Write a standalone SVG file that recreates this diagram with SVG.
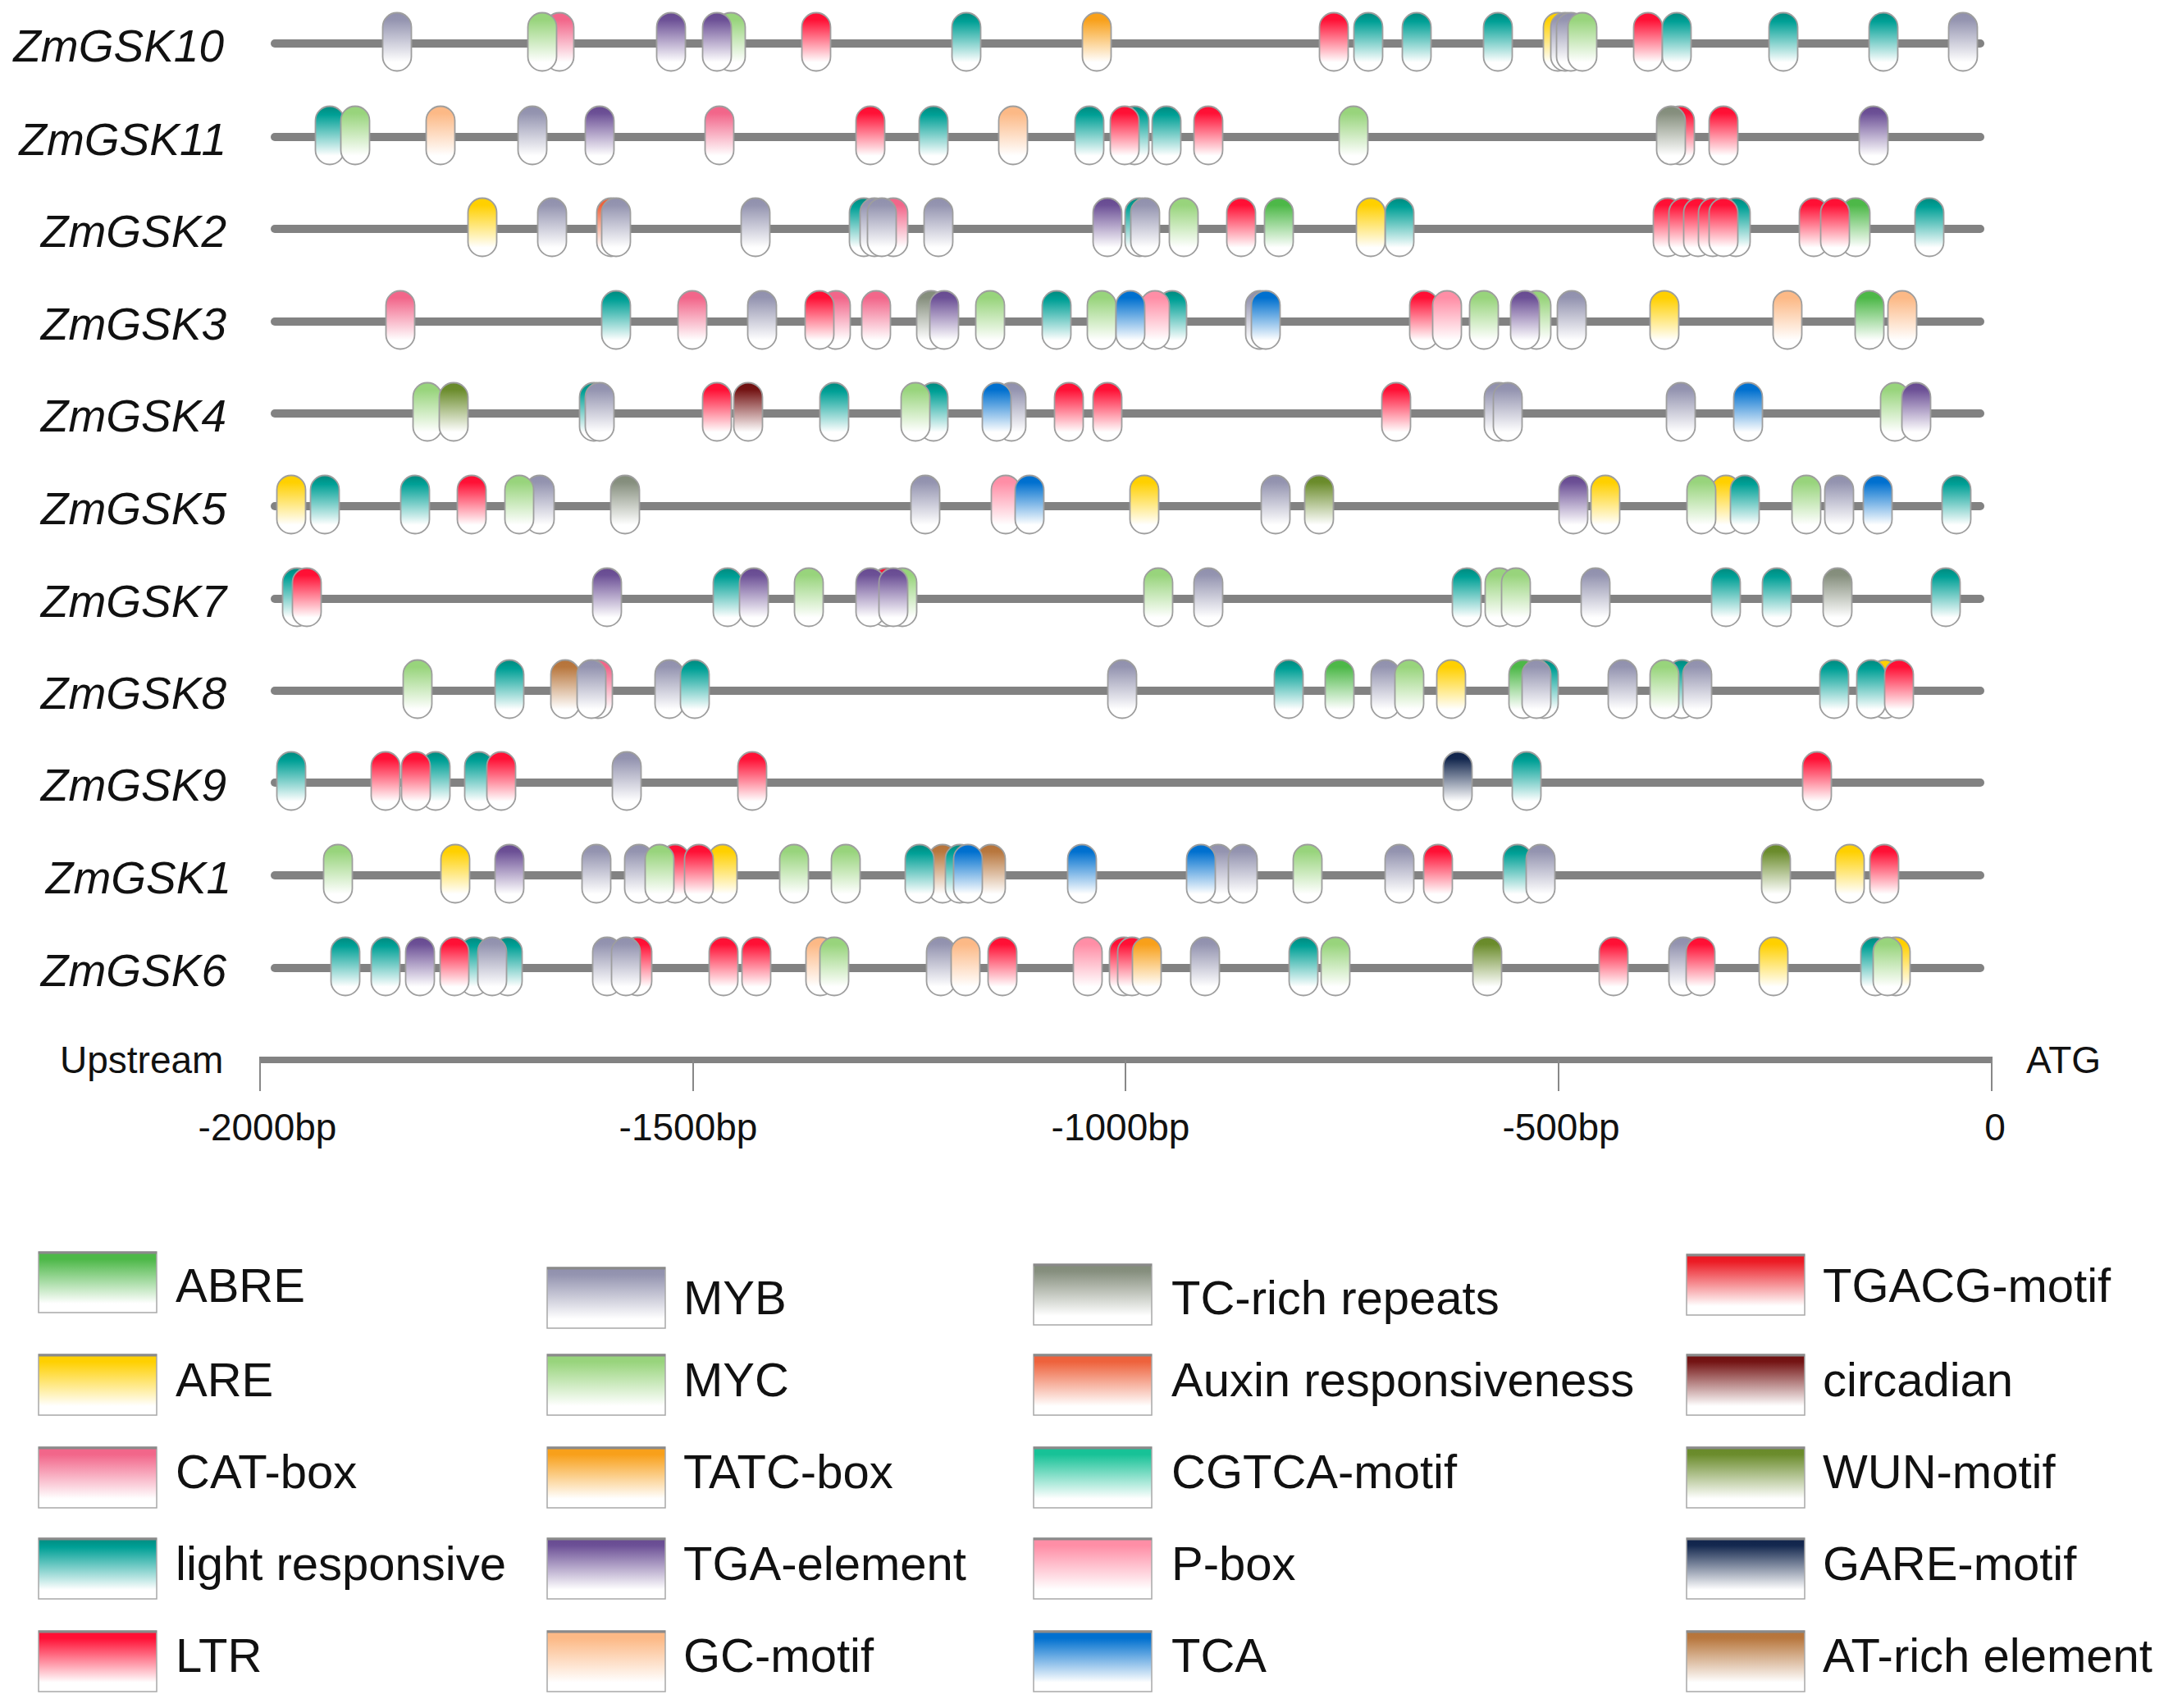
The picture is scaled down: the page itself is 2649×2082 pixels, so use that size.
<svg xmlns="http://www.w3.org/2000/svg" xmlns:xlink="http://www.w3.org/1999/xlink" width="2649" height="2082" viewBox="0 0 2649 2082">
<style>
text{font-family:"Liberation Sans",Arial,sans-serif;fill:#111}
.gl{font-style:italic;font-size:55px;text-anchor:end}
.lt{font-size:58px}
.ax{font-size:46px}
.axm{font-size:46px;text-anchor:middle}
.row{stroke:#828282;stroke-width:10;stroke-linecap:round}
.pills use{stroke:#9e9e9e;stroke-width:1.8}
.lb{stroke:#a8a8a8;stroke-width:1.5}
.lbt{stroke:#8a8a8a;stroke-width:3}
.tick{stroke:#888;stroke-width:2}
.ABRE{fill:url(#gABRE)}.ARE{fill:url(#gARE)}.CAT{fill:url(#gCAT)}.LR{fill:url(#gLR)}.LTR{fill:url(#gLTR)}
.MYB{fill:url(#gMYB)}.MYC{fill:url(#gMYC)}.TATC{fill:url(#gTATC)}.TGA{fill:url(#gTGA)}.GC{fill:url(#gGC)}
.TC{fill:url(#gTC)}.AUX{fill:url(#gAUX)}.CGTCA{fill:url(#gCGTCA)}.PBOX{fill:url(#gPBOX)}.TCA{fill:url(#gTCA)}
.TGACG{fill:url(#gTGACG)}.CIRC{fill:url(#gCIRC)}.WUN{fill:url(#gWUN)}.GARE{fill:url(#gGARE)}.AT{fill:url(#gAT)}
</style>
<defs>
<linearGradient id="gABRE" x1="0" y1="0" x2="0" y2="1"><stop offset="0" stop-color="#4db848"/><stop offset="0.12" stop-color="#4db848"/><stop offset="0.85" stop-color="#fff"/></linearGradient>
<linearGradient id="gARE" x1="0" y1="0" x2="0" y2="1"><stop offset="0" stop-color="#ffd000"/><stop offset="0.12" stop-color="#ffd000"/><stop offset="0.85" stop-color="#fff"/></linearGradient>
<linearGradient id="gCAT" x1="0" y1="0" x2="0" y2="1"><stop offset="0" stop-color="#f2668a"/><stop offset="0.12" stop-color="#f2668a"/><stop offset="0.85" stop-color="#fff"/></linearGradient>
<linearGradient id="gLR" x1="0" y1="0" x2="0" y2="1"><stop offset="0" stop-color="#00897e"/><stop offset="0.15" stop-color="#00a096"/><stop offset="0.85" stop-color="#fff"/></linearGradient>
<linearGradient id="gLTR" x1="0" y1="0" x2="0" y2="1"><stop offset="0" stop-color="#ff1035"/><stop offset="0.12" stop-color="#ff1035"/><stop offset="0.85" stop-color="#fff"/></linearGradient>
<linearGradient id="gMYB" x1="0" y1="0" x2="0" y2="1"><stop offset="0" stop-color="#9090ad"/><stop offset="0.12" stop-color="#9494b0"/><stop offset="0.85" stop-color="#fff"/></linearGradient>
<linearGradient id="gMYC" x1="0" y1="0" x2="0" y2="1"><stop offset="0" stop-color="#98d47c"/><stop offset="0.12" stop-color="#98d47c"/><stop offset="0.85" stop-color="#fff"/></linearGradient>
<linearGradient id="gTATC" x1="0" y1="0" x2="0" y2="1"><stop offset="0" stop-color="#f8a01a"/><stop offset="0.12" stop-color="#f8a01a"/><stop offset="0.85" stop-color="#fff"/></linearGradient>
<linearGradient id="gTGA" x1="0" y1="0" x2="0" y2="1"><stop offset="0" stop-color="#674a90"/><stop offset="0.12" stop-color="#6c5096"/><stop offset="0.85" stop-color="#fff"/></linearGradient>
<linearGradient id="gGC" x1="0" y1="0" x2="0" y2="1"><stop offset="0" stop-color="#fcb986"/><stop offset="0.12" stop-color="#fcb986"/><stop offset="0.85" stop-color="#fff"/></linearGradient>
<linearGradient id="gTC" x1="0" y1="0" x2="0" y2="1"><stop offset="0" stop-color="#838d7a"/><stop offset="0.12" stop-color="#868f7e"/><stop offset="0.85" stop-color="#fff"/></linearGradient>
<linearGradient id="gAUX" x1="0" y1="0" x2="0" y2="1"><stop offset="0" stop-color="#ee623c"/><stop offset="0.12" stop-color="#ee623c"/><stop offset="0.85" stop-color="#fff"/></linearGradient>
<linearGradient id="gCGTCA" x1="0" y1="0" x2="0" y2="1"><stop offset="0" stop-color="#17c297"/><stop offset="0.12" stop-color="#17c297"/><stop offset="0.85" stop-color="#fff"/></linearGradient>
<linearGradient id="gPBOX" x1="0" y1="0" x2="0" y2="1"><stop offset="0" stop-color="#ff8ea6"/><stop offset="0.12" stop-color="#ff8ea6"/><stop offset="0.85" stop-color="#fff"/></linearGradient>
<linearGradient id="gTCA" x1="0" y1="0" x2="0" y2="1"><stop offset="0" stop-color="#0070cf"/><stop offset="0.12" stop-color="#0070cf"/><stop offset="0.85" stop-color="#fff"/></linearGradient>
<linearGradient id="gTGACG" x1="0" y1="0" x2="0" y2="1"><stop offset="0" stop-color="#ec1520"/><stop offset="0.12" stop-color="#ec1c25"/><stop offset="0.85" stop-color="#fff"/></linearGradient>
<linearGradient id="gCIRC" x1="0" y1="0" x2="0" y2="1"><stop offset="0" stop-color="#6e0f0f"/><stop offset="0.12" stop-color="#741414"/><stop offset="0.85" stop-color="#fff"/></linearGradient>
<linearGradient id="gWUN" x1="0" y1="0" x2="0" y2="1"><stop offset="0" stop-color="#688a2a"/><stop offset="0.12" stop-color="#6b8c2c"/><stop offset="0.85" stop-color="#fff"/></linearGradient>
<linearGradient id="gGARE" x1="0" y1="0" x2="0" y2="1"><stop offset="0" stop-color="#10234a"/><stop offset="0.12" stop-color="#14284f"/><stop offset="0.85" stop-color="#fff"/></linearGradient>
<linearGradient id="gAT" x1="0" y1="0" x2="0" y2="1"><stop offset="0" stop-color="#b5733a"/><stop offset="0.12" stop-color="#b8773e"/><stop offset="0.85" stop-color="#fff"/></linearGradient>
<rect id="p" x="-17.5" y="-37.5" width="35" height="71" rx="17.5"/>
</defs>
<rect width="2649" height="2082" fill="#fff"/>

<g id="ZmGSK10">
<text class="gl" x="273" y="75">ZmGSK10</text>
<line class="row" x1="335" y1="53" x2="2414" y2="53"/>
<g class="pills">
<use href="#p" x="484" y="53" class="MYB"/><use href="#p" x="682" y="53" class="CAT"/><use href="#p" x="661" y="53" class="MYC"/>
<use href="#p" x="891" y="53" class="MYC"/><use href="#p" x="818" y="53" class="TGA"/><use href="#p" x="874" y="53" class="TGA"/>
<use href="#p" x="995" y="53" class="LTR"/><use href="#p" x="1178" y="53" class="LR"/><use href="#p" x="1337" y="53" class="TATC"/>
<use href="#p" x="1626" y="53" class="LTR"/><use href="#p" x="1668" y="53" class="LR"/><use href="#p" x="1727" y="53" class="LR"/>
<use href="#p" x="1826" y="53" class="LR"/><use href="#p" x="1899" y="53" class="ARE"/><use href="#p" x="1908" y="53" class="MYB"/>
<use href="#p" x="1915" y="53" class="MYB"/><use href="#p" x="1929" y="53" class="MYC"/><use href="#p" x="2009" y="53" class="LTR"/>
<use href="#p" x="2044" y="53" class="LR"/><use href="#p" x="2174" y="53" class="LR"/><use href="#p" x="2296" y="53" class="LR"/>
<use href="#p" x="2393" y="53" class="MYB"/>
</g>
</g>

<g id="ZmGSK11">
<text class="gl" x="276" y="189">ZmGSK11</text>
<line class="row" x1="335" y1="167" x2="2414" y2="167"/>
<g class="pills">
<use href="#p" x="402" y="167" class="LR"/><use href="#p" x="433" y="167" class="MYC"/><use href="#p" x="537" y="167" class="GC"/>
<use href="#p" x="649" y="167" class="MYB"/><use href="#p" x="731" y="167" class="TGA"/><use href="#p" x="877" y="167" class="CAT"/>
<use href="#p" x="1061" y="167" class="LTR"/><use href="#p" x="1138" y="167" class="LR"/><use href="#p" x="1235" y="167" class="GC"/>
<use href="#p" x="1328" y="167" class="LR"/><use href="#p" x="1383" y="167" class="LR"/><use href="#p" x="1371" y="167" class="LTR"/>
<use href="#p" x="1422" y="167" class="LR"/><use href="#p" x="1473" y="167" class="LTR"/><use href="#p" x="1650" y="167" class="MYC"/>
<use href="#p" x="2048" y="167" class="LTR"/><use href="#p" x="2037" y="167" class="TC"/><use href="#p" x="2101" y="167" class="LTR"/>
<use href="#p" x="2284" y="167" class="TGA"/>
</g>
</g>

<g id="ZmGSK2">
<text class="gl" x="276" y="301">ZmGSK2</text>
<line class="row" x1="335" y1="279" x2="2414" y2="279"/>
<g class="pills">
<use href="#p" x="588" y="279" class="ARE"/><use href="#p" x="673" y="279" class="MYB"/><use href="#p" x="745" y="279" class="AUX"/>
<use href="#p" x="751" y="279" class="MYB"/><use href="#p" x="921" y="279" class="MYB"/><use href="#p" x="1053" y="279" class="LR"/>
<use href="#p" x="1089" y="279" class="CAT"/><use href="#p" x="1066" y="279" class="MYB"/><use href="#p" x="1075" y="279" class="MYB"/>
<use href="#p" x="1144" y="279" class="MYB"/><use href="#p" x="1389" y="279" class="LR"/><use href="#p" x="1350" y="279" class="TGA"/>
<use href="#p" x="1396" y="279" class="MYB"/><use href="#p" x="1443" y="279" class="MYC"/><use href="#p" x="1513" y="279" class="LTR"/>
<use href="#p" x="1559" y="279" class="ABRE"/><use href="#p" x="1706" y="279" class="LR"/><use href="#p" x="1671" y="279" class="ARE"/>
<use href="#p" x="2116" y="279" class="LR"/><use href="#p" x="2033" y="279" class="LTR"/><use href="#p" x="2052" y="279" class="LTR"/>
<use href="#p" x="2070" y="279" class="LTR"/><use href="#p" x="2088" y="279" class="LTR"/><use href="#p" x="2101" y="279" class="LTR"/>
<use href="#p" x="2211" y="279" class="LTR"/><use href="#p" x="2262" y="279" class="ABRE"/><use href="#p" x="2237" y="279" class="LTR"/>
<use href="#p" x="2352" y="279" class="LR"/>
</g>
</g>

<g id="ZmGSK3">
<text class="gl" x="276" y="414">ZmGSK3</text>
<line class="row" x1="335" y1="392" x2="2414" y2="392"/>
<g class="pills">
<use href="#p" x="488" y="392" class="CAT"/><use href="#p" x="751" y="392" class="LR"/><use href="#p" x="844" y="392" class="CAT"/>
<use href="#p" x="929" y="392" class="MYB"/><use href="#p" x="1019" y="392" class="CAT"/><use href="#p" x="999" y="392" class="LTR"/>
<use href="#p" x="1068" y="392" class="CAT"/><use href="#p" x="1135" y="392" class="TC"/><use href="#p" x="1151" y="392" class="TGA"/>
<use href="#p" x="1207" y="392" class="MYC"/><use href="#p" x="1288" y="392" class="LR"/><use href="#p" x="1343" y="392" class="MYC"/>
<use href="#p" x="1429" y="392" class="LR"/><use href="#p" x="1408" y="392" class="PBOX"/><use href="#p" x="1378" y="392" class="TCA"/>
<use href="#p" x="1536" y="392" class="MYB"/><use href="#p" x="1543" y="392" class="TCA"/><use href="#p" x="1736" y="392" class="LTR"/>
<use href="#p" x="1764" y="392" class="PBOX"/><use href="#p" x="1809" y="392" class="MYC"/><use href="#p" x="1873" y="392" class="MYC"/>
<use href="#p" x="1859" y="392" class="TGA"/><use href="#p" x="1916" y="392" class="MYB"/><use href="#p" x="2029" y="392" class="ARE"/>
<use href="#p" x="2179" y="392" class="GC"/><use href="#p" x="2319" y="392" class="GC"/><use href="#p" x="2279" y="392" class="ABRE"/>
</g>
</g>

<g id="ZmGSK4">
<text class="gl" x="276" y="526">ZmGSK4</text>
<line class="row" x1="335" y1="504" x2="2414" y2="504"/>
<g class="pills">
<use href="#p" x="521" y="504" class="MYC"/><use href="#p" x="553" y="504" class="WUN"/><use href="#p" x="724" y="504" class="LR"/>
<use href="#p" x="731" y="504" class="MYB"/><use href="#p" x="874" y="504" class="LTR"/><use href="#p" x="912" y="504" class="CIRC"/>
<use href="#p" x="1017" y="504" class="LR"/><use href="#p" x="1138" y="504" class="LR"/><use href="#p" x="1116" y="504" class="MYC"/>
<use href="#p" x="1233" y="504" class="MYB"/><use href="#p" x="1215" y="504" class="TCA"/><use href="#p" x="1303" y="504" class="LTR"/>
<use href="#p" x="1350" y="504" class="LTR"/><use href="#p" x="1702" y="504" class="LTR"/><use href="#p" x="1827" y="504" class="MYB"/>
<use href="#p" x="1838" y="504" class="MYB"/><use href="#p" x="2049" y="504" class="MYB"/><use href="#p" x="2131" y="504" class="TCA"/>
<use href="#p" x="2310" y="504" class="MYC"/><use href="#p" x="2336" y="504" class="TGA"/>
</g>
</g>

<g id="ZmGSK5">
<text class="gl" x="276" y="639">ZmGSK5</text>
<line class="row" x1="335" y1="617" x2="2414" y2="617"/>
<g class="pills">
<use href="#p" x="355" y="617" class="ARE"/><use href="#p" x="396" y="617" class="LR"/><use href="#p" x="506" y="617" class="LR"/>
<use href="#p" x="575" y="617" class="LTR"/><use href="#p" x="658" y="617" class="MYB"/><use href="#p" x="633" y="617" class="MYC"/>
<use href="#p" x="762" y="617" class="TC"/><use href="#p" x="1128" y="617" class="MYB"/><use href="#p" x="1226" y="617" class="PBOX"/>
<use href="#p" x="1255" y="617" class="TCA"/><use href="#p" x="1395" y="617" class="ARE"/><use href="#p" x="1555" y="617" class="MYB"/>
<use href="#p" x="1608" y="617" class="WUN"/><use href="#p" x="1918" y="617" class="TGA"/><use href="#p" x="1957" y="617" class="ARE"/>
<use href="#p" x="2104" y="617" class="ARE"/><use href="#p" x="2074" y="617" class="MYC"/><use href="#p" x="2127" y="617" class="LR"/>
<use href="#p" x="2202" y="617" class="MYC"/><use href="#p" x="2242" y="617" class="MYB"/><use href="#p" x="2289" y="617" class="TCA"/>
<use href="#p" x="2385" y="617" class="LR"/>
</g>
</g>

<g id="ZmGSK7">
<text class="gl" x="276" y="752">ZmGSK7</text>
<line class="row" x1="335" y1="730" x2="2414" y2="730"/>
<g class="pills">
<use href="#p" x="362" y="730" class="LR"/><use href="#p" x="374" y="730" class="LTR"/><use href="#p" x="740" y="730" class="TGA"/>
<use href="#p" x="887" y="730" class="LR"/><use href="#p" x="919" y="730" class="TGA"/><use href="#p" x="986" y="730" class="MYC"/>
<use href="#p" x="1100" y="730" class="MYC"/><use href="#p" x="1080" y="730" class="LTR"/><use href="#p" x="1061" y="730" class="TGA"/>
<use href="#p" x="1089" y="730" class="TGA"/><use href="#p" x="1412" y="730" class="MYC"/><use href="#p" x="1473" y="730" class="MYB"/>
<use href="#p" x="1788" y="730" class="LR"/><use href="#p" x="1828" y="730" class="MYC"/><use href="#p" x="1848" y="730" class="MYC"/>
<use href="#p" x="1945" y="730" class="MYB"/><use href="#p" x="2104" y="730" class="LR"/><use href="#p" x="2166" y="730" class="LR"/>
<use href="#p" x="2240" y="730" class="TC"/><use href="#p" x="2372" y="730" class="LR"/>
</g>
</g>

<g id="ZmGSK8">
<text class="gl" x="276" y="864">ZmGSK8</text>
<line class="row" x1="335" y1="842" x2="2414" y2="842"/>
<g class="pills">
<use href="#p" x="509" y="842" class="MYC"/><use href="#p" x="621" y="842" class="LR"/><use href="#p" x="729" y="842" class="CAT"/>
<use href="#p" x="689" y="842" class="AT"/><use href="#p" x="721" y="842" class="MYB"/><use href="#p" x="816" y="842" class="MYB"/>
<use href="#p" x="847" y="842" class="LR"/><use href="#p" x="1368" y="842" class="MYB"/><use href="#p" x="1571" y="842" class="LR"/>
<use href="#p" x="1633" y="842" class="ABRE"/><use href="#p" x="1689" y="842" class="MYB"/><use href="#p" x="1718" y="842" class="MYC"/>
<use href="#p" x="1769" y="842" class="ARE"/>
<use href="#p" x="1857" y="842" class="ABRE"/><use href="#p" x="1882" y="842" class="LR"/><use href="#p" x="1873" y="842" class="MYB"/>
<use href="#p" x="1978" y="842" class="MYB"/><use href="#p" x="2050" y="842" class="LR"/><use href="#p" x="2069" y="842" class="MYB"/>
<use href="#p" x="2029" y="842" class="MYC"/><use href="#p" x="2236" y="842" class="LR"/><use href="#p" x="2298" y="842" class="ARE"/>
<use href="#p" x="2281" y="842" class="LR"/><use href="#p" x="2315" y="842" class="LTR"/>
</g>
</g>

<g id="ZmGSK9">
<text class="gl" x="276" y="976">ZmGSK9</text>
<line class="row" x1="335" y1="954" x2="2414" y2="954"/>
<g class="pills">
<use href="#p" x="355" y="954" class="LR"/><use href="#p" x="470" y="954" class="LTR"/><use href="#p" x="531" y="954" class="LR"/>
<use href="#p" x="507" y="954" class="LTR"/><use href="#p" x="584" y="954" class="LR"/><use href="#p" x="611" y="954" class="LTR"/>
<use href="#p" x="764" y="954" class="MYB"/><use href="#p" x="917" y="954" class="LTR"/><use href="#p" x="1777" y="954" class="GARE"/>
<use href="#p" x="1861" y="954" class="LR"/><use href="#p" x="2215" y="954" class="LTR"/>
</g>
</g>

<g id="ZmGSK1">
<text class="gl" x="282" y="1089">ZmGSK1</text>
<line class="row" x1="335" y1="1067" x2="2414" y2="1067"/>
<g class="pills">
<use href="#p" x="412" y="1067" class="MYC"/><use href="#p" x="555" y="1067" class="ARE"/><use href="#p" x="621" y="1067" class="TGA"/>
<use href="#p" x="727" y="1067" class="MYB"/><use href="#p" x="779" y="1067" class="MYB"/><use href="#p" x="823" y="1067" class="LTR"/>
<use href="#p" x="804" y="1067" class="MYC"/><use href="#p" x="881" y="1067" class="ARE"/><use href="#p" x="852" y="1067" class="LTR"/>
<use href="#p" x="968" y="1067" class="MYC"/><use href="#p" x="1031" y="1067" class="MYC"/><use href="#p" x="1149" y="1067" class="AT"/>
<use href="#p" x="1208" y="1067" class="AT"/><use href="#p" x="1170" y="1067" class="LR"/><use href="#p" x="1180" y="1067" class="TCA"/>
<use href="#p" x="1121" y="1067" class="LR"/><use href="#p" x="1319" y="1067" class="TCA"/><use href="#p" x="1485" y="1067" class="MYB"/>
<use href="#p" x="1464" y="1067" class="TCA"/><use href="#p" x="1515" y="1067" class="MYB"/><use href="#p" x="1594" y="1067" class="MYC"/>
<use href="#p" x="1706" y="1067" class="MYB"/><use href="#p" x="1753" y="1067" class="LTR"/><use href="#p" x="1850" y="1067" class="LR"/>
<use href="#p" x="1878" y="1067" class="MYB"/><use href="#p" x="2165" y="1067" class="WUN"/><use href="#p" x="2255" y="1067" class="ARE"/>
<use href="#p" x="2297" y="1067" class="LTR"/>
</g>
</g>

<g id="ZmGSK6">
<text class="gl" x="276" y="1202">ZmGSK6</text>
<line class="row" x1="335" y1="1180" x2="2414" y2="1180"/>
<g class="pills">
<use href="#p" x="421" y="1180" class="LR"/><use href="#p" x="470" y="1180" class="LR"/><use href="#p" x="512" y="1180" class="TGA"/>
<use href="#p" x="578" y="1180" class="LR"/><use href="#p" x="619" y="1180" class="LR"/><use href="#p" x="554" y="1180" class="LTR"/>
<use href="#p" x="600" y="1180" class="MYB"/><use href="#p" x="777" y="1180" class="LTR"/><use href="#p" x="740" y="1180" class="MYB"/>
<use href="#p" x="763" y="1180" class="MYB"/><use href="#p" x="882" y="1180" class="LTR"/><use href="#p" x="922" y="1180" class="LTR"/>
<use href="#p" x="1000" y="1180" class="GC"/><use href="#p" x="1017" y="1180" class="MYC"/><use href="#p" x="1147" y="1180" class="MYB"/>
<use href="#p" x="1177" y="1180" class="GC"/><use href="#p" x="1222" y="1180" class="LTR"/><use href="#p" x="1326" y="1180" class="PBOX"/>
<use href="#p" x="1370" y="1180" class="LTR"/><use href="#p" x="1380" y="1180" class="LTR"/><use href="#p" x="1398" y="1180" class="TATC"/>
<use href="#p" x="1469" y="1180" class="MYB"/><use href="#p" x="1589" y="1180" class="LR"/><use href="#p" x="1628" y="1180" class="MYC"/>
<use href="#p" x="1813" y="1180" class="WUN"/><use href="#p" x="1967" y="1180" class="LTR"/><use href="#p" x="2052" y="1180" class="MYB"/>
<use href="#p" x="2073" y="1180" class="LTR"/><use href="#p" x="2162" y="1180" class="ARE"/><use href="#p" x="2286" y="1180" class="LR"/>
<use href="#p" x="2311" y="1180" class="ARE"/><use href="#p" x="2301" y="1180" class="MYC"/>
</g>
</g>

<g id="axis">
<line x1="316" y1="1292" x2="2429" y2="1292" stroke="#828282" stroke-width="8"/>
<line class="tick" x1="317" y1="1292" x2="317" y2="1330"/>
<line class="tick" x1="845" y1="1292" x2="845" y2="1330"/>
<line class="tick" x1="1372" y1="1292" x2="1372" y2="1330"/>
<line class="tick" x1="1900" y1="1292" x2="1900" y2="1330"/>
<line class="tick" x1="2428" y1="1292" x2="2428" y2="1330"/>
<text class="ax" x="73" y="1308">Upstream</text>
<text class="ax" x="2470" y="1308">ATG</text>
<text class="axm" x="326" y="1390">-2000bp</text>
<text class="axm" x="839" y="1390">-1500bp</text>
<text class="axm" x="1366" y="1390">-1000bp</text>
<text class="axm" x="1903" y="1390">-500bp</text>
<text class="axm" x="2432" y="1390">0</text>
</g>

<g id="connectors"/>

<g id="legend">
<g id="leg-ABRE"><rect class="lb ABRE" x="47" y="1526" width="144" height="74"/><line class="lbt" x1="47" y1="1527" x2="191" y2="1527"/><text class="lt" x="214" y="1587">ABRE</text></g>
<g id="leg-ARE"><rect class="lb ARE" x="47" y="1651" width="144" height="74"/><line class="lbt" x1="47" y1="1652" x2="191" y2="1652"/><text class="lt" x="214" y="1702">ARE</text></g>
<g id="leg-CAT"><rect class="lb CAT" x="47" y="1764" width="144" height="74"/><line class="lbt" x1="47" y1="1765" x2="191" y2="1765"/><text class="lt" x="214" y="1814">CAT-box</text></g>
<g id="leg-LR"><rect class="lb LR" x="47" y="1875" width="144" height="74"/><line class="lbt" x1="47" y1="1876" x2="191" y2="1876"/><text class="lt" x="214" y="1926">light responsive</text></g>
<g id="leg-LTR"><rect class="lb LTR" x="47" y="1988" width="144" height="74"/><line class="lbt" x1="47" y1="1989" x2="191" y2="1989"/><text class="lt" x="214" y="2038">LTR</text></g>

<g id="leg-MYB"><rect class="lb MYB" x="667" y="1545" width="144" height="74"/><line class="lbt" x1="667" y1="1546" x2="811" y2="1546"/><text class="lt" x="833" y="1602">MYB</text></g>
<g id="leg-MYC"><rect class="lb MYC" x="667" y="1651" width="144" height="74"/><line class="lbt" x1="667" y1="1652" x2="811" y2="1652"/><text class="lt" x="833" y="1702">MYC</text></g>
<g id="leg-TATC"><rect class="lb TATC" x="667" y="1764" width="144" height="74"/><line class="lbt" x1="667" y1="1765" x2="811" y2="1765"/><text class="lt" x="833" y="1814">TATC-box</text></g>
<g id="leg-TGA"><rect class="lb TGA" x="667" y="1875" width="144" height="74"/><line class="lbt" x1="667" y1="1876" x2="811" y2="1876"/><text class="lt" x="833" y="1926">TGA-element</text></g>
<g id="leg-GC"><rect class="lb GC" x="667" y="1988" width="144" height="74"/><line class="lbt" x1="667" y1="1989" x2="811" y2="1989"/><text class="lt" x="833" y="2038">GC-motif</text></g>

<g id="leg-TC"><rect class="lb TC" x="1260" y="1541" width="144" height="74"/><line class="lbt" x1="1260" y1="1542" x2="1404" y2="1542"/><text class="lt" x="1428" y="1602">TC-rich repeats</text></g>
<g id="leg-AUX"><rect class="lb AUX" x="1260" y="1651" width="144" height="74"/><line class="lbt" x1="1260" y1="1652" x2="1404" y2="1652"/><text class="lt" x="1428" y="1702">Auxin responsiveness</text></g>
<g id="leg-CGTCA"><rect class="lb CGTCA" x="1260" y="1764" width="144" height="74"/><line class="lbt" x1="1260" y1="1765" x2="1404" y2="1765"/><text class="lt" x="1428" y="1814">CGTCA-motif</text></g>
<g id="leg-PBOX"><rect class="lb PBOX" x="1260" y="1875" width="144" height="74"/><line class="lbt" x1="1260" y1="1876" x2="1404" y2="1876"/><text class="lt" x="1428" y="1926">P-box</text></g>
<g id="leg-TCA"><rect class="lb TCA" x="1260" y="1988" width="144" height="74"/><line class="lbt" x1="1260" y1="1989" x2="1404" y2="1989"/><text class="lt" x="1428" y="2038">TCA</text></g>

<g id="leg-TGACG"><rect class="lb TGACG" x="2056" y="1529" width="144" height="74"/><line class="lbt" x1="2056" y1="1530" x2="2200" y2="1530"/><text class="lt" x="2222" y="1587">TGACG-motif</text></g>
<g id="leg-CIRC"><rect class="lb CIRC" x="2056" y="1651" width="144" height="74"/><line class="lbt" x1="2056" y1="1652" x2="2200" y2="1652"/><text class="lt" x="2222" y="1702">circadian</text></g>
<g id="leg-WUN"><rect class="lb WUN" x="2056" y="1764" width="144" height="74"/><line class="lbt" x1="2056" y1="1765" x2="2200" y2="1765"/><text class="lt" x="2222" y="1814">WUN-motif</text></g>
<g id="leg-GARE"><rect class="lb GARE" x="2056" y="1875" width="144" height="74"/><line class="lbt" x1="2056" y1="1876" x2="2200" y2="1876"/><text class="lt" x="2222" y="1926">GARE-motif</text></g>
<g id="leg-AT"><rect class="lb AT" x="2056" y="1988" width="144" height="74"/><line class="lbt" x1="2056" y1="1989" x2="2200" y2="1989"/><text class="lt" x="2222" y="2038">AT-rich element</text></g>
</g>
</svg>
